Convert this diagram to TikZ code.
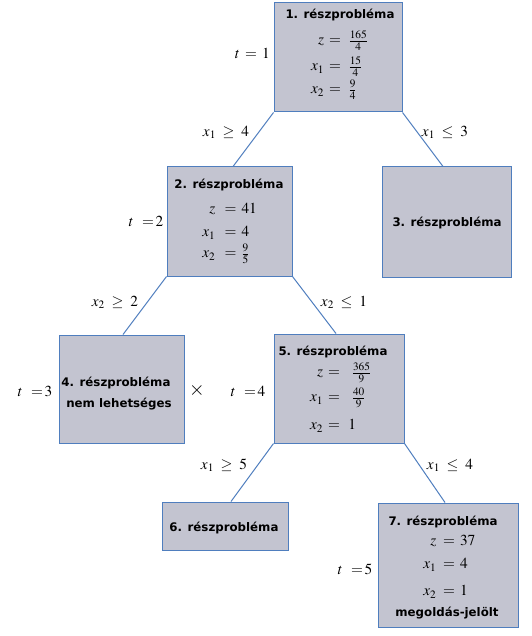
\documentclass[tikz,border=0pt]{standalone}
\usepackage{amsmath}
\usepackage{mathptmx}
\usepackage[no-math]{fontspec}
\setsansfont{DejaVu Sans}
\usetikzlibrary{calc}
\definecolor{boxfill}{RGB}{195,196,208}
\definecolor{boxline}{RGB}{79,126,190}
\newcommand\eqn[4]{\llap{$#1\mskip#3mu$}$=$\rlap{$\mskip#4mu#2$}}
\begin{document}
\begin{tikzpicture}[x=1pt,y=-1pt,
  box/.style={draw=boxline, fill=boxfill, line width=1pt, rectangle, inner sep=0pt},
  conn/.style={draw=boxline, line width=1pt},
  title/.style={font=\sffamily\bfseries\fontsize{11.8}{14}\selectfont, inner sep=0pt, anchor=base},
  mth/.style={font=\fontsize{15.3}{18}\selectfont, inner sep=0pt, anchor=base}]
\useasboundingbox (0,0) rectangle (531,636);
% boxes
\node[box, minimum width=128pt, minimum height=109pt] (B1) at (338,57.5) {};
\node[box, minimum width=125pt, minimum height=109pt] (B2) at (229.5,221.5) {};
\node[box, minimum width=129pt, minimum height=110pt] (B3) at (446.5,222) {};
\node[box, minimum width=125pt, minimum height=108pt] (B4) at (121.5,389) {};
\node[box, minimum width=130pt, minimum height=109pt] (B5) at (339,388.5) {};
\node[box, minimum width=126pt, minimum height=48pt] (B6) at (225,526) {};
\node[box, minimum width=140pt, minimum height=124pt] (B7) at (448,565) {};
% connectors
\draw[conn] (B1.south west) -- ($(B2.north)+(3.5,0)$);
\draw[conn] (B1.south east) -- ($(B3.north)+(-3.5,0)$);
\draw[conn] (B2.south west) -- ($(B4.north)+(1.5,0)$);
\draw[conn] (B2.south east) -- ($(B5.north)+(-3,0)$);
\draw[conn] (B5.south west) -- ($(B6.north)+(6,0)$);
\draw[conn] (B5.south east) -- ($(B7.north)+(-3,0)$);
% titles
\node[title] (T1) at (340,19) {1. részprobléma};
\node[title] (T2) at (229,189) {2. részprobléma};
\node[title] (T3) at (447,226) {3. részprobléma};
\node[title] (T4a) at (116,386) {4. részprobléma};
\node[title] (T4b) at (119,407) {nem lehetséges};
\node[title] (T5) at (333,355) {5. részprobléma};
\node[title] (T6) at (224,531) {6. részprobléma};
\node[title] (T7) at (443,525) {7. részprobléma};
\node[title] (M7) at (447,616) {megoldás-jelölt};
% box 1 equations
\node[mth] (E1a) at (335,44.75) {\eqn{z}{\tfrac{165}{4}}{6}{9}};
\node[mth] (E1b) at (335,70.75) {\eqn{x_1}{\tfrac{15}{4}}{6}{9}};
\node[mth] (E1c) at (335,93.75) {\eqn{x_2}{\tfrac{9}{4}}{6}{9}};
% box 2 equations
\node[mth] (E2a) at (230.5,213.75) {\eqn{z}{41}{11}{6}};
\node[mth] (E2b) at (230.5,236.75) {\eqn{x_1}{4}{11}{6}};
\node[mth] (E2c) at (230.5,257.75) {\eqn{x_2}{\tfrac{9}{5}}{11}{6}};
% box 5 equations
\node[mth] (E5a) at (334,376.75) {\eqn{z}{\tfrac{365}{9}}{6}{14}};
\node[mth] (E5b) at (334,401.75) {\eqn{x_1}{\tfrac{40}{9}}{6}{14}};
\node[mth] (E5c) at (334,429.75) {\eqn{x_2}{1}{6}{10}};
% box 7 equations
\node[mth] (E7a) at (449,545.75) {\eqn{z}{37}{8}{6}};
\node[mth] (E7b) at (449,568.75) {\eqn{x_1}{4}{8}{6}};
\node[mth] (E7c) at (449,595.75) {\eqn{x_2}{1}{8}{6}};
% t labels
\node[mth] (t1) at (251,58.75) {\eqn{t}{1}{6}{6}};
\node[mth] (t2) at (148,226.75) {\eqn{t}{2}{10}{2}};
\node[mth] (t3) at (37,396.75) {\eqn{t}{3}{10}{2}};
\node[mth] (t4) at (250,396.75) {\eqn{t}{4}{10}{2}};
\node[mth] (t5) at (357,574.75) {\eqn{t}{5}{10}{2}};
% infeasible mark
\node[inner sep=0pt, anchor=base, font=\fontsize{20}{24}\selectfont] (X4) at (197,395) {$\times$};
% edge labels
\node[mth] (L12) at (226,136.5) {$x_1 \;\ge\; 4$};
\node[mth] (L13) at (445,136.5) {$x_1 \;\le\; 3$};
\node[mth] (L24) at (115,306.5) {$x_2 \;\ge\; 2$};
\node[mth] (L25) at (344,306.5) {$x_2 \;\le\; 1$};
\node[mth] (L56) at (224,469.5) {$x_1 \;\ge\; 5$};
\node[mth] (L57) at (450,469.5) {$x_1 \;\le\; 4$};
\end{tikzpicture}
\end{document}
